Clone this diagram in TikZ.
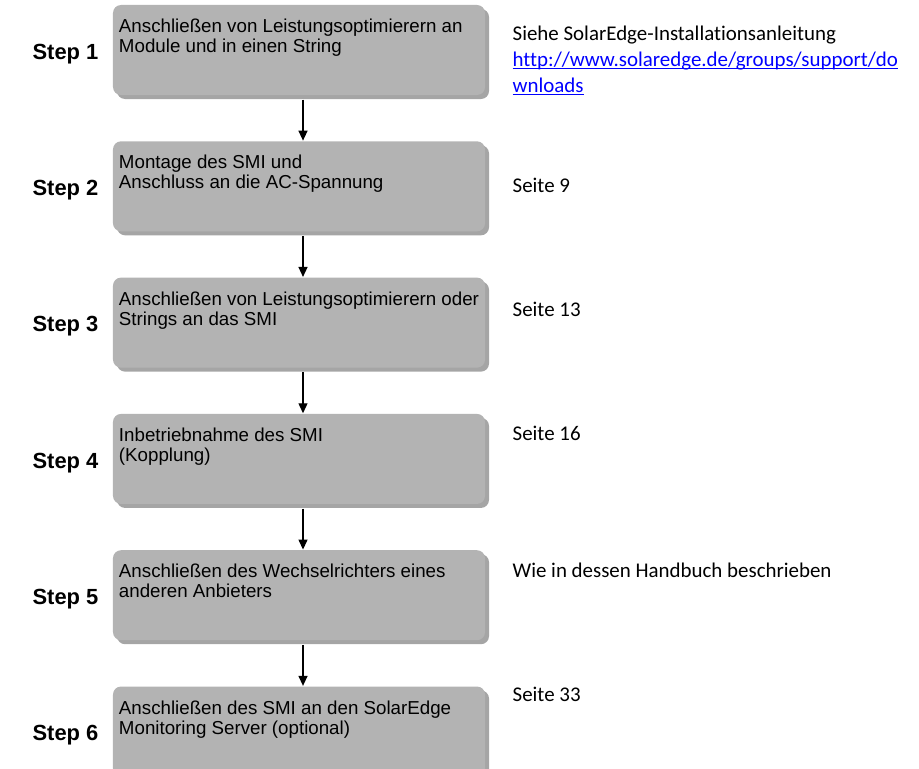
\documentclass[tikz,border=0pt]{standalone}
\usepackage{fontspec}
\setmainfont{Liberation Sans}
\newfontfamily\notefont[Ligatures=NoCommon]{Carlito}
\usepackage{tikz}
\usetikzlibrary{positioning}
\usetikzlibrary{shadows}
\usetikzlibrary{arrows.meta}
\definecolor{boxgray}{RGB}{179,179,179}
\definecolor{linkblue}{RGB}{0,0,255}
\tikzset{
    every picture/.append style={
        >={Triangle[length=10bp, width=9bp]}
    }
}
\tikzset{
    stepbox/.style={shape=rectangle, rounded corners=8bp, fill=boxgray,
        inner xsep=6bp, inner ysep=14bp,
        drop shadow={shadow xshift=4bp, shadow yshift=-4bp, fill=black!70}},
    steplabel/.style={font=\fontsize{22}{26}\selectfont\bfseries},
    note/.style={anchor=base west, inner sep=0pt, font=\notefont\fontsize{21}{26}\selectfont},
}
\newcommand{\boxtext}[1]{\parbox[t][62bp][t]{360bp}{\raggedright\fontsize{18.8}{20}\selectfont #1}}
\newcommand{\linktext}[1]{\textcolor{linkblue}{\underline{\smash{#1}}}}

\begin{document}
\begin{tikzpicture}[x=1bp, y=-1bp, line width=1.3bp]
		\useasboundingbox (0,0) rectangle (919,769);
		\node[stepbox] (box1) at (299,50) {\boxtext{Anschließen von Leistungsoptimierern an\\Module und in einen String}};
		\node[stepbox, below=45bp of box1] (box2) {\boxtext{Montage des SMI und\\Anschluss an die AC-Spannung}};
		\node[stepbox, below=45bp of box2] (box3) {\boxtext{Anschließen von Leistungsoptimierern oder\\Strings an das SMI}};
		\node[stepbox, below=45bp of box3] (box4) {\boxtext{Inbetriebnahme des SMI\\(Kopplung)}};
		\node[stepbox, below=45bp of box4] (box5) {\boxtext{Anschließen des Wechselrichters eines\\anderen Anbieters}};
		\node[stepbox, below=45bp of box5] (box6) {\boxtext{Anschließen des SMI an den SolarEdge\\Monitoring Server (optional)}};
		
		\node[steplabel, left=10bp of box1, yshift=-4bp] (step1) {Step 1};
		\node[steplabel, left=10bp of box2, yshift=-4bp] (step2) {Step 2};
		\node[steplabel, left=10bp of box3, yshift=-4bp] (step3) {Step 3};
		\node[steplabel, left=10bp of box4, yshift=-4bp] (step4) {Step 4};
		\node[steplabel, left=10bp of box5, yshift=-4bp] (step5) {Step 5};
		\node[steplabel, left=10bp of box6, yshift=-4bp] (step6) {Step 6};
		
		\node[note] (note1) at (512,41) {\parbox[t]{405bp}{Siehe SolarEdge-Installationsanleitung\\\linktext{http://www.solaredge.de/groups/support/do}\\\linktext{wnloads}}};
		\node[note] (note2) at (512,192) {Seite 9};
		\node[note] (note3) at (512,316) {Seite 13};
		\node[note] (note4) at (512,440) {Seite 16};
		\node[note] (note5) at (512,577) {Wie in dessen Handbuch beschrieben};
		\node[note] (note6) at (512,701) {Seite 33};
		
		\path [->] ([xshift=4bp,yshift=-4bp]box1.south) edge ([xshift=4bp]box2.north);
		\path [->] ([xshift=4bp,yshift=-4bp]box2.south) edge ([xshift=4bp]box3.north);
		\path [->] ([xshift=4bp,yshift=-4bp]box3.south) edge ([xshift=4bp]box4.north);
		\path [->] ([xshift=4bp,yshift=-4bp]box4.south) edge ([xshift=4bp]box5.north);
		\path [->] ([xshift=4bp,yshift=-4bp]box5.south) edge ([xshift=4bp]box6.north);
		\end{tikzpicture}
\end{document}
